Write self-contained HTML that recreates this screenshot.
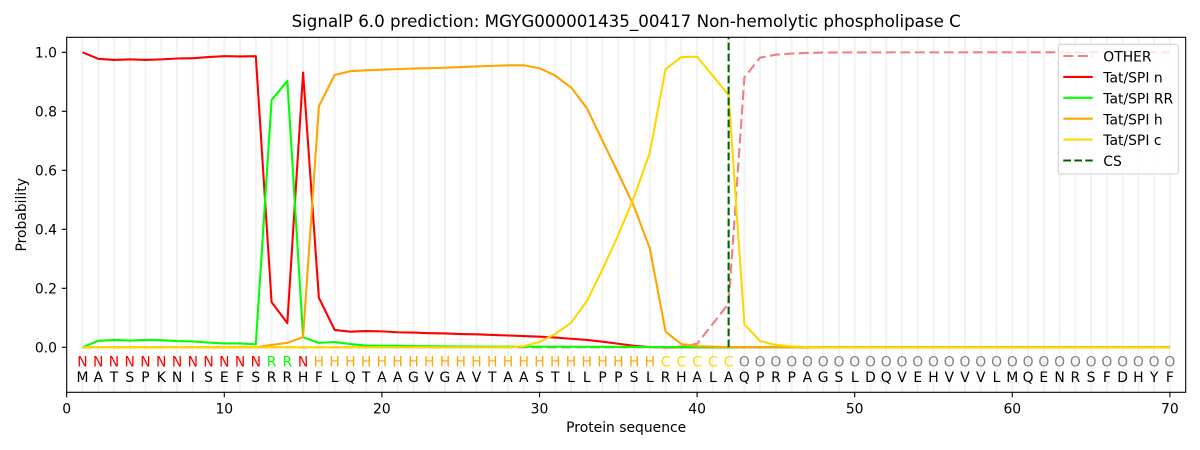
<!DOCTYPE html>
<html>
<head>
<meta charset="utf-8">
<style>
html,body{margin:0;padding:0;background:#fff;}
svg{display:block;}
text{font-family:"DejaVu Sans","Liberation Sans",sans-serif;}
</style>
</head>
<body>
<svg width="1200" height="450" viewBox="0 0 1200 450" xmlns="http://www.w3.org/2000/svg">
<rect x="0" y="0" width="1200" height="450" fill="#fff"/>
<!-- vertical grid lines -->
<path stroke="#f2f2f2" stroke-width="2" fill="none" d="M82.46 37.3V392.3M98.22 37.3V392.3M113.98 37.3V392.3M129.74 37.3V392.3M145.5 37.3V392.3M161.26 37.3V392.3M177.02 37.3V392.3M192.78 37.3V392.3M208.54 37.3V392.3M224.3 37.3V392.3M240.06 37.3V392.3M255.82 37.3V392.3M271.58 37.3V392.3M287.34 37.3V392.3M303.1 37.3V392.3M318.86 37.3V392.3M334.62 37.3V392.3M350.38 37.3V392.3M366.14 37.3V392.3M381.9 37.3V392.3M397.66 37.3V392.3M413.42 37.3V392.3M429.18 37.3V392.3M444.94 37.3V392.3M460.7 37.3V392.3M476.46 37.3V392.3M492.22 37.3V392.3M507.98 37.3V392.3M523.74 37.3V392.3M539.5 37.3V392.3M555.26 37.3V392.3M571.02 37.3V392.3M586.78 37.3V392.3M602.54 37.3V392.3M618.3 37.3V392.3M634.06 37.3V392.3M649.82 37.3V392.3M665.58 37.3V392.3M681.34 37.3V392.3M697.1 37.3V392.3M712.86 37.3V392.3M728.62 37.3V392.3M744.38 37.3V392.3M760.14 37.3V392.3M775.9 37.3V392.3M791.66 37.3V392.3M807.42 37.3V392.3M823.18 37.3V392.3M838.94 37.3V392.3M854.7 37.3V392.3M870.46 37.3V392.3M886.22 37.3V392.3M901.98 37.3V392.3M917.74 37.3V392.3M933.5 37.3V392.3M949.26 37.3V392.3M965.02 37.3V392.3M980.78 37.3V392.3M996.54 37.3V392.3M1012.3 37.3V392.3M1028.06 37.3V392.3M1043.82 37.3V392.3M1059.58 37.3V392.3M1075.34 37.3V392.3M1091.1 37.3V392.3M1106.86 37.3V392.3M1122.62 37.3V392.3M1138.38 37.3V392.3M1154.14 37.3V392.3M1169.9 37.3V392.3"/>

<!-- OTHER dashed -->
<polyline fill="none" stroke="#f08080" stroke-width="2.1" stroke-dasharray="10,4.5" points="82.46,347.3 665.58,347.3 681.34,346.4 697.1,343.8 712.86,323.7 728.62,303.6 744.38,77.4 760.14,57.6 775.9,54.7 791.66,53.5 807.42,52.9 823.18,52.6 838.94,52.4 1169.9,52.3"/>

<g transform="matrix(15.76,0,0,-295,66.7,347.3)" fill="none" stroke-linejoin="round">
<polyline vector-effect="non-scaling-stroke" stroke="#ff0000" stroke-width="2.1" points="1,1 2,.978 3,.974 4,.976 5,.974 6,.976 7,.979 8,.98 9,.984 10,.987 11,.986 12,.987 13,.153 14,.082 15,.931 16,.168 17,.059 18,.053 19,.055 20,.054 21,.051 22,.05 23,.048 24,.047 25,.045 26,.044 27,.042 28,.04 29,.038 30,.036 31,.033 32,.029 33,.025 34,.019 35,.012 36,.005 37,.001 38,0 70,0"/>
<polyline vector-effect="non-scaling-stroke" stroke="#00ff00" stroke-width="2.1" points="1,0 2,.022 3,.025 4,.023 5,.025 6,.024 7,.021 8,.02 9,.016 10,.013 11,.013 12,.01 13,.838 14,.903 15,.034 16,.015 17,.018 18,.011 19,.006 20,.005 21,.005 22,.004 23,.004 24,.003 27,.002 31,.002 38,.001 40,0 70,0"/>
<polyline vector-effect="non-scaling-stroke" stroke="#ffa500" stroke-width="2.1" points="1,0 12,0 13,.008 14,.015 15,.035 16,.817 17,.923 18,.936 19,.939 20,.941 21,.943 22,.945 23,.946 24,.948 25,.95 26,.952 27,.954 28,.956 29,.956 30,.946 31,.921 32,.881 33,.811 34,.70 35,.59 36,.477 37,.335 38,.053 39,.011 40,.004 41,.002 42,.001 43,0 70,0"/>
<polyline vector-effect="non-scaling-stroke" stroke="#ffd700" stroke-width="2.1" points="1,0 28,0 29,.004 30,.018 31,.045 32,.083 33,.156 34,.265 35,.381 36,.51 37,.66 38,.943 39,.984 40,.985 41,.92 42,.855 43,.078 44,.021 45,.008 46,.003 47,.001 48,0 70,0"/>
</g>

<!-- CS line -->
<line x1="728.62" y1="347.3" x2="728.62" y2="37.3" stroke="#006400" stroke-width="2.1" stroke-dasharray="7.7,3.3"/>

<!-- residue labels -->
<g font-size="13.9" text-anchor="middle">
<text y="366.3"><tspan fill="#ff0000" x="82.46 98.22 113.98 129.74 145.5 161.26 177.02 192.78 208.54 224.3 240.06 255.82">NNNNNNNNNNNN</tspan><tspan fill="#00ff00" x="271.58 287.34">RR</tspan><tspan fill="#ff0000" x="303.1">N</tspan><tspan fill="#ffa500" x="318.86 334.62 350.38 366.14 381.9 397.66 413.42 429.18 444.94 460.7 476.46 492.22 507.98 523.74 539.5 555.26 571.02 586.78 602.54 618.3 634.06 649.82">HHHHHHHHHHHHHHHHHHHHHH</tspan><tspan fill="#ffd700" x="665.58 681.34 697.1 712.86 728.62">CCCCC</tspan><tspan fill="#808080" x="744.38 760.14 775.9 791.66 807.42 823.18 838.94 854.7 870.46 886.22 901.98 917.74 933.5 949.26 965.02 980.78 996.54 1012.3 1028.06 1043.82 1059.58 1075.34 1091.1 1106.86 1122.62 1138.38 1154.14 1169.9">OOOOOOOOOOOOOOOOOOOOOOOOOOOO</tspan></text>
<text y="382" fill="#000" x="82.46 98.22 113.98 129.74 145.5 161.26 177.02 192.78 208.54 224.3 240.06 255.82 271.58 287.34 303.1 318.86 334.62 350.38 366.14 381.9 397.66 413.42 429.18 444.94 460.7 476.46 492.22 507.98 523.74 539.5 555.26 571.02 586.78 602.54 618.3 634.06 649.82 665.58 681.34 697.1 712.86 728.62 744.38 760.14 775.9 791.66 807.42 823.18 838.94 854.7 870.46 886.22 901.98 917.74 933.5 949.26 965.02 980.78 996.54 1012.3 1028.06 1043.82 1059.58 1075.34 1091.1 1106.86 1122.62 1138.38 1154.14 1169.9">MATSPKNISEFSRRHFLQTAAGVGAVTAASTLLPPSLRHALAQPRPAGSLDQVEHVVVLMQENRSFDHYF</text>
</g>

<!-- legend -->
<rect x="1058.3" y="44.3" width="120" height="129.7" rx="2.5" ry="2.5" fill="#ffffff" fill-opacity="0.8" stroke="#cccccc" stroke-width="1"/>
<line x1="1063.3" y1="56" x2="1092.7" y2="56" stroke="#f08080" stroke-width="2.1" stroke-dasharray="10,4.5"/>
<line x1="1063.3" y1="76.9" x2="1092.7" y2="76.9" stroke="#ff0000" stroke-width="2.1"/>
<line x1="1063.3" y1="97.8" x2="1092.7" y2="97.8" stroke="#00ff00" stroke-width="2.1"/>
<line x1="1063.3" y1="118.7" x2="1092.7" y2="118.7" stroke="#ffa500" stroke-width="2.1"/>
<line x1="1063.3" y1="139.6" x2="1092.7" y2="139.6" stroke="#ffd700" stroke-width="2.1"/>
<line x1="1063.3" y1="160.5" x2="1092.7" y2="160.5" stroke="#006400" stroke-width="2.1" stroke-dasharray="7.7,3.3"/>
<g font-size="13.9" fill="#000">
<text x="1103.3" y="61.6">OTHER</text>
<text x="1103.3" y="82.5">Tat/SPI n</text>
<text x="1103.3" y="103.4">Tat/SPI RR</text>
<text x="1103.3" y="124.3">Tat/SPI h</text>
<text x="1103.3" y="145.2">Tat/SPI c</text>
<text x="1103.3" y="166.1">CS</text>
</g>

<!-- axes frame -->
<rect x="66.7" y="37.3" width="1119" height="355" fill="none" stroke="#000" stroke-width="1.1"/>

<!-- x ticks -->
<path stroke="#000" stroke-width="1.1" d="M66.7 392.3V397.2M224.3 392.3V397.2M381.9 392.3V397.2M539.5 392.3V397.2M697.1 392.3V397.2M854.7 392.3V397.2M1012.3 392.3V397.2M1169.9 392.3V397.2"/>
<g font-size="13.9" text-anchor="middle" fill="#000">
<text x="66.7" y="413.5">0</text>
<text x="224.3" y="413.5">10</text>
<text x="381.9" y="413.5">20</text>
<text x="539.5" y="413.5">30</text>
<text x="697.1" y="413.5">40</text>
<text x="854.7" y="413.5">50</text>
<text x="1012.3" y="413.5">60</text>
<text x="1169.9" y="413.5">70</text>
</g>

<!-- y ticks -->
<path stroke="#000" stroke-width="1.1" d="M61.8 347.3H66.7M61.8 288.3H66.7M61.8 229.3H66.7M61.8 170.3H66.7M61.8 111.3H66.7M61.8 52.3H66.7"/>
<g font-size="13.9" text-anchor="end" fill="#000">
<text x="57" y="352.4">0.0</text>
<text x="57" y="293.4">0.2</text>
<text x="57" y="234.4">0.4</text>
<text x="57" y="175.4">0.6</text>
<text x="57" y="116.4">0.8</text>
<text x="57" y="57.4">1.0</text>
</g>

<!-- axis labels and title -->
<text x="626.2" y="431.8" font-size="13.9" text-anchor="middle" fill="#000">Protein sequence</text>
<text transform="translate(26,214.8) rotate(-90)" font-size="13.9" text-anchor="middle" fill="#000">Probability</text>
<text x="626.2" y="27" font-size="16.7" text-anchor="middle" fill="#000">SignalP 6.0 prediction: MGYG000001435_00417 Non-hemolytic phospholipase C</text>
</svg>
</body>
</html>
